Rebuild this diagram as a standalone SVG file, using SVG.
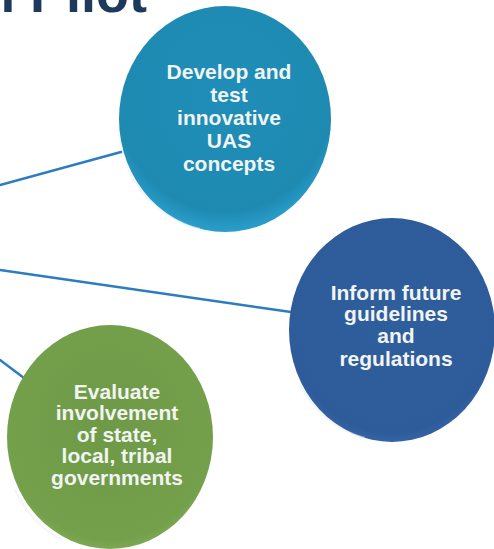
<svg xmlns="http://www.w3.org/2000/svg" width="494" height="549" viewBox="0 0 494 549">
<defs>
<radialGradient id="gTeal" cx="0.5" cy="0.4" r="0.6">
<stop offset="0" stop-color="#1f8eb8"/>
<stop offset="0.85" stop-color="#1e8ab2"/>
<stop offset="1" stop-color="#2a9fcc"/>
</radialGradient>
<radialGradient id="gBlue" cx="0.5" cy="0.45" r="0.6">
<stop offset="0" stop-color="#2f5e9d"/>
<stop offset="0.85" stop-color="#2e5c9b"/>
<stop offset="1" stop-color="#3c6cb0"/>
</radialGradient>
<radialGradient id="gGreen" cx="0.5" cy="0.45" r="0.6">
<stop offset="0" stop-color="#6e9a47"/>
<stop offset="0.85" stop-color="#74a04c"/>
<stop offset="1" stop-color="#86b35a"/>
</radialGradient>
</defs>
<style>
.conn{stroke:#2b7cc0;stroke-width:2.5;fill:none;stroke-linecap:round}
.lbl{font-family:"Liberation Sans",Arial,sans-serif;font-weight:bold;font-size:21px;fill:#f2f4f2;text-anchor:middle}
.rim{fill:none;stroke:#e8eef4;stroke-opacity:0.55;stroke-width:2}
.title{font-family:"Liberation Sans",Arial,sans-serif;font-weight:bold;font-size:54px;fill:#1d3a5c}
</style>
<rect width="494" height="549" fill="#ffffff"/>
<text class="title" x="147" y="12" text-anchor="end">n Pilot</text>
<g id="connectors">
<line class="conn" x1="0" y1="185" x2="121" y2="152"/>
<line class="conn" x1="0" y1="270" x2="291" y2="312"/>
<line class="conn" x1="0" y1="360" x2="24" y2="378"/>
</g>
<g id="node-develop">
<ellipse cx="225" cy="119" rx="106" ry="113" fill="url(#gTeal)"/>
<path class="rim" d="M 128 170 A 106 113 0 0 0 200 229"/>
<text class="lbl"><tspan x="229" y="79">Develop and</tspan><tspan x="229" y="102">test</tspan><tspan x="229" y="125">innovative</tspan><tspan x="229" y="148">UAS</tspan><tspan x="229" y="171">concepts</tspan></text>
</g>
<g id="node-inform">
<ellipse cx="392" cy="330" rx="103" ry="112" fill="url(#gBlue)"/>
<path class="rim" d="M 300 385 A 103 112 0 0 0 365 438"/>
<text class="lbl"><tspan x="396" y="300">Inform future</tspan><tspan x="396" y="321">guidelines</tspan><tspan x="396" y="343">and</tspan><tspan x="396" y="366">regulations</tspan></text>
</g>
<g id="node-evaluate">
<ellipse cx="110" cy="437" rx="103" ry="112" fill="url(#gGreen)"/>
<path class="rim" d="M 15 490 A 103 112 0 0 0 62 540"/>
<text class="lbl"><tspan x="117" y="399">Evaluate</tspan><tspan x="117" y="420">involvement</tspan><tspan x="117" y="442">of state,</tspan><tspan x="117" y="463">local, tribal</tspan><tspan x="117" y="485">governments</tspan></text>
</g>
</svg>
